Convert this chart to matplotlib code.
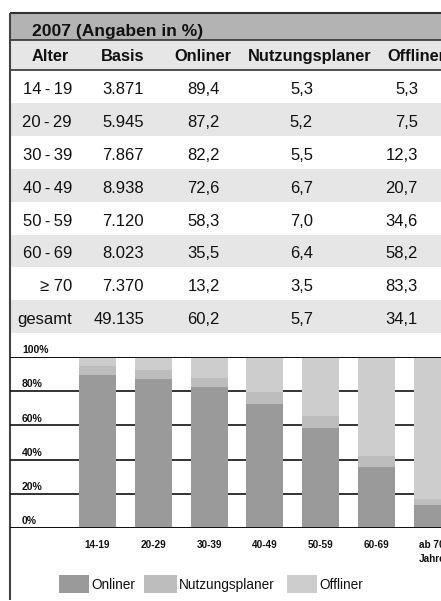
import matplotlib
matplotlib.use("Agg")
import matplotlib.pyplot as plt
from matplotlib.patches import Rectangle
import matplotlib.transforms as mtransforms

plt.rcParams['font.family'] = ['Liberation Sans', 'DejaVu Sans']

# ---- data ----
title = "2007 (Angaben in %)"
headers = ["Alter", "Basis", "Onliner", "Nutzungsplaner", "Offliner"]
row_labels = ["14\u2009-\u200919", "20\u2009-\u200929", "30\u2009-\u200939", "40\u2009-\u200949",
              "50\u2009-\u200959", "60\u2009-\u200969", "\u2265 70", "gesamt"]
basis = ["3.871", "5.945", "7.867", "8.938", "7.120", "8.023", "7.370", "49.135"]
onliner_txt = ["89,4", "87,2", "82,2", "72,6", "58,3", "35,5", "13,2", "60,2"]
nutz_txt = ["5,3", "5,2", "5,5", "6,7", "7,0", "6,4", "3,5", "5,7"]
off_txt = ["5,3", "7,5", "12,3", "20,7", "34,6", "58,2", "83,3", "34,1"]

categories = ["14-19", "20-29", "30-39", "40-49", "50-59", "60-69", "ab 70\nJahre"]
onliner = [89.4, 87.2, 82.2, 72.6, 58.3, 35.5, 13.2]
nutzungsplaner = [5.3, 5.2, 5.5, 6.7, 7.0, 6.4, 3.5]
offliner = [5.3, 7.5, 12.3, 20.7, 34.6, 58.2, 83.3]
series_names = ["Onliner", "Nutzungsplaner", "Offliner"]
yticks = [0, 20, 40, 60, 80, 100]

colors = ["#9a9a9a", "#bdbdbd", "#cdcdcd"]
TXT = "#111111"

W, H = 441, 601
fig = plt.figure(figsize=(W / 100, H / 100), dpi=100)

# overlay axes in pixel coordinates for the table
ax = fig.add_axes([0, 0, 1, 1])
ax.set_xlim(0, W)
ax.set_ylim(H, 0)
ax.axis('off')

# title bar
ax.add_patch(Rectangle((10, 13), W, 27, facecolor="#b3b3b3", edgecolor="none", zorder=1))
ax.text(32, 36, title, fontsize=12.6, fontweight='bold', color=TXT, ha='left', va='baseline', zorder=3)
# header row
ax.add_patch(Rectangle((10, 40), W, 30, facecolor="#e6e6e6", edgecolor="none", zorder=1))
for y, lw in [(13, 1.5), (40, 1.2), (70, 1.2)]:
    ax.plot([10, W], [y, y], color="#333333", lw=lw, zorder=2, solid_capstyle='butt')

head_x = [50, 123, 203, 310, 387]
head_ha = ['center', 'center', 'center', 'center', 'left']
for hx, ha, h in zip(head_x, head_ha, headers):
    ax.text(hx, 61, h, fontsize=11.8, fontweight='bold', color=TXT, ha=ha, va='baseline', zorder=3)

row_h = 32.9
cols = [row_labels, basis, onliner_txt, nutz_txt, off_txt]
col_x = [72, 144, 220, 313, 418]
for i in range(len(row_labels)):
    top = 70 + row_h * i
    if i % 2 == 1:
        ax.add_patch(Rectangle((10, top), W, row_h, facecolor="#e6e6e6", edgecolor="none", zorder=1))
    for cx, col in zip(col_x, cols):
        ax.text(cx, top + 24, col[i], fontsize=12, color=TXT, ha='right', va='baseline', zorder=3)

# left border
ax.plot([10, 10], [13, 600], color="#444444", lw=1.5, zorder=4, solid_capstyle='butt')

# ---- bar chart ----
left_px, right_px = 10, 480
top_px, base_px = 357, 528
spacing = 55.75
first_c = 97.5
xmin = -(first_c - left_px) / spacing
xmax = xmin + (right_px - left_px) / spacing
bax = fig.add_axes([left_px / W, (H - base_px) / H, (right_px - left_px) / W, (base_px - top_px) / H])
bax.set_facecolor('none')
bax.set_xlim(xmin, xmax)
bax.set_ylim(0, 100)
for s in bax.spines.values():
    s.set_visible(False)

for yt in yticks:
    bax.axhline(yt, color="#111111", lw=1.4 if yt in (0, 100) else 1.2, zorder=1)

x = list(range(len(categories)))
bw = 37 / spacing
bax.bar(x, onliner, width=bw, color=colors[0], zorder=2, label=series_names[0])
bottom2 = [a for a in onliner]
bax.bar(x, nutzungsplaner, width=bw, bottom=bottom2, color=colors[1], zorder=2, label=series_names[1])
bottom3 = [a + b for a, b in zip(onliner, nutzungsplaner)]
bax.bar(x, offliner, width=bw, bottom=bottom3, color=colors[2], zorder=2, label=series_names[2])
bax.axhline(100, color="#111111", lw=1.4, zorder=3)
bax.axhline(0, color="#111111", lw=1.4, zorder=3)

bax.set_yticks([])
bax.set_xticks(x)
bax.set_xticklabels(categories, fontsize=7.2, fontweight='bold', color=TXT, linespacing=1.5)
bax.tick_params(axis='x', length=0, pad=9)

trans = mtransforms.blended_transform_factory(bax.transAxes, bax.transData)
for yt in yticks:
    bax.text((22 - left_px) / (right_px - left_px), yt + 1.0, f"{yt}%", transform=trans,
             fontsize=7.5, fontweight='bold', color=TXT, ha='left', va='bottom', zorder=4)

# legend (manual)
leg_sw = [(59, 89), (144, 177), (287, 317)]
for (x0, x1), c, name in zip(leg_sw, colors, series_names):
    ax.add_patch(Rectangle((x0, 575), x1 - x0, 18, facecolor=c, edgecolor='none', zorder=3))
    ax.text(x1 + 2, 589, name, fontsize=9.8, color=TXT, ha='left', va='baseline', zorder=3)

fig.savefig("out.png", dpi=100)
